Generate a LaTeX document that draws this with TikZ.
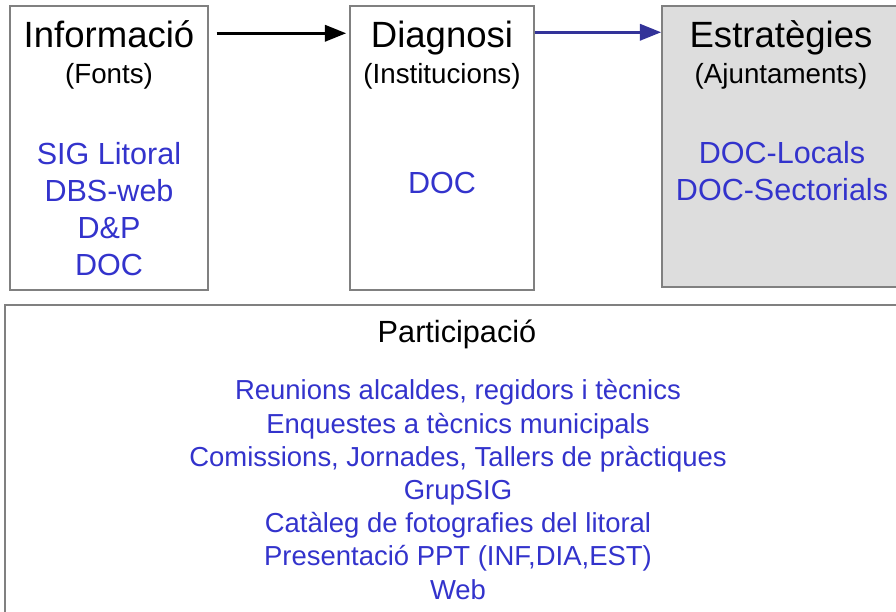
\documentclass[tikz,border=0pt]{standalone}
\usepackage{fontspec}
\setmainfont{Liberation Sans}
\usetikzlibrary{arrows.meta}
\definecolor{txtblue}{RGB}{51,51,204}
\definecolor{arrblue}{RGB}{51,51,153}
\definecolor{boxgray}{RGB}{221,221,221}
\definecolor{edgegray}{RGB}{128,128,128}
\tikzset{
  panel/.style={draw=edgegray, line width=1.1pt, inner sep=0pt},
  ttl/.style={anchor=base, inner sep=0pt, font=\fontsize{27.4pt}{30pt}\selectfont},
  sub/.style={anchor=base, inner sep=0pt, font=\fontsize{20.8pt}{24pt}\selectfont},
  items/.style={anchor=base, inner sep=0pt, align=center, text=txtblue, font=\fontsize{22.9pt}{27.75pt}\selectfont},
  pitems/.style={anchor=base, inner sep=0pt, align=center, text=txtblue, font=\fontsize{20.6pt}{24.9pt}\selectfont},
  flow/.style={line width=2.6pt, -{Triangle[length=16pt,width=12pt]}}
}
\begin{document}
\begin{tikzpicture}[x=0.75pt,y=-0.75pt]
\useasboundingbox (0,0) rectangle (896,611);
% panels
\node[panel, minimum width=148.5pt, minimum height=213pt] (b1) at (109,148) {};
\node[panel, minimum width=138pt, minimum height=213pt] (b2) at (442,148) {};
\node[panel, fill=boxgray, minimum width=182.25pt, minimum height=210.75pt] (b3) at (783.5,146.5) {};
\node[panel, minimum width=675pt, minimum height=236.25pt] (b4) at (455,462.5) {};
% titles (multi-line nodes are placed by the baseline of their last line)
\node[ttl] (t1) at (109,47) {Informació};
\node[sub] (s1) at (109,83) {(Fonts)};
\node[items] (i1) at (109,275) {SIG Litoral\\DBS-web\\D\&P\\DOC};
\node[ttl] (t2) at (442,47) {Diagnosi};
\node[sub] (s2) at (442,83) {(Institucions)};
\node[items] (i2) at (442,193) {DOC};
\node[ttl] (t3) at (781,47) {Estratègies};
\node[sub] (s3) at (781,83) {(Ajuntaments)};
\node[items] (i3) at (782,200) {DOC-Locals\\DOC-Sectorials};
\node[anchor=base, inner sep=0pt, font=\fontsize{23pt}{27pt}\selectfont] (t4) at (457,342) {Participació};
\node[pitems] (i4) at (458,599) {Reunions alcaldes, regidors i tècnics\\Enquestes a tècnics municipals\\Comissions, Jornades, Tallers de pràctiques\\GrupSIG\\Catàleg de fotografies del litoral\\Presentació PPT (INF,DIA,EST)\\Web};
% arrows
\draw[flow] ([shift={(8,28)}]b1.north east) -- ([shift={(-3,28)}]b2.north west);
\draw[flow, draw=arrblue, fill=arrblue] ([shift={(0,27)}]b2.north east) -- ([shift={(0,27)}]b3.north west);
\end{tikzpicture}
\end{document}
